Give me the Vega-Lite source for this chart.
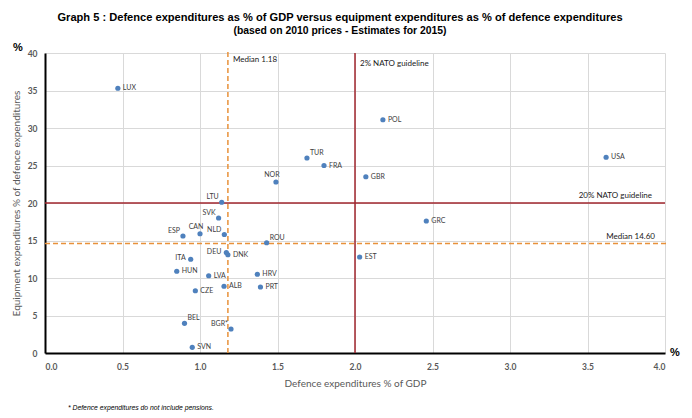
{
  "$schema": "https://vega.github.io/schema/vega-lite/v6.json",
  "width": 620,
  "height": 300,
  "autosize": {"type": "none"},
  "padding": {"left": 45, "top": 53, "right": 27, "bottom": 65},
  "background": "white",
  "config": {"view": {"stroke": null}, "font": "Lato"},
  "title": {
    "text": "Graph 5 : Defence expenditures as % of GDP versus equipment expenditures as % of defence expenditures",
    "subtitle": "(based on 2010 prices - Estimates for 2015)",
    "anchor": "middle",
    "frame": "group",
    "dx": -15,
    "offset": 6,
    "font": "Liberation Sans Narrow, Liberation Sans",
    "fontSize": 11.1,
    "fontWeight": "bold",
    "color": "black",
    "subtitleFont": "Liberation Sans Narrow, Liberation Sans",
    "subtitleFontSize": 10.4,
    "subtitleFontWeight": "bold",
    "subtitleColor": "black",
    "subtitlePadding": 3
  },
  "datasets": {
    "countries": [
      {"country": "LUX", "gdp": 0.47, "equip": 35.3},
      {"country": "POL", "gdp": 2.18, "equip": 31.1},
      {"country": "USA", "gdp": 3.62, "equip": 26.1},
      {"country": "TUR", "gdp": 1.69, "equip": 26.0},
      {"country": "FRA", "gdp": 1.8, "equip": 25.0},
      {"country": "GBR", "gdp": 2.07, "equip": 23.5},
      {"country": "NOR", "gdp": 1.49, "equip": 22.8},
      {"country": "LTU", "gdp": 1.14, "equip": 20.1},
      {"country": "SVK", "gdp": 1.12, "equip": 18.0},
      {"country": "GRC", "gdp": 2.46, "equip": 17.6},
      {"country": "CAN", "gdp": 1.0, "equip": 15.9},
      {"country": "NLD", "gdp": 1.157, "equip": 15.8},
      {"country": "ESP", "gdp": 0.89, "equip": 15.6},
      {"country": "ROU", "gdp": 1.43, "equip": 14.7},
      {"country": "DEU", "gdp": 1.17, "equip": 13.4},
      {"country": "DNK", "gdp": 1.18, "equip": 13.1},
      {"country": "EST", "gdp": 2.03, "equip": 12.8},
      {"country": "ITA", "gdp": 0.94, "equip": 12.5},
      {"country": "HUN", "gdp": 0.85, "equip": 10.9},
      {"country": "HRV", "gdp": 1.37, "equip": 10.5},
      {"country": "LVA", "gdp": 1.056, "equip": 10.3},
      {"country": "ALB", "gdp": 1.155, "equip": 8.9},
      {"country": "PRT", "gdp": 1.39, "equip": 8.8},
      {"country": "CZE", "gdp": 0.97, "equip": 8.3},
      {"country": "BEL", "gdp": 0.9, "equip": 3.96},
      {"country": "BGR*", "gdp": 1.2, "equip": 3.2},
      {"country": "SVN", "gdp": 0.95, "equip": 0.76}
    ]
  },
  "encoding": {
    "x": {
      "field": "gdp",
      "type": "quantitative",
      "scale": {"domain": [0, 4], "nice": false},
      "axis": {
        "values": [0, 0.5, 1, 1.5, 2, 2.5, 3, 3.5, 4],
        "format": ".1f",
        "title": "Defence expenditures % of GDP",
        "titleFontSize": 10,
        "titleFontWeight": "normal",
        "titleColor": "#595959",
        "titlePadding": 8,
        "labelFontSize": 8.5,
        "labelFontWeight": "bold",
        "labelColor": "#595959",
        "labelPadding": 9,
        "ticks": false,
        "domainColor": "black",
        "domainWidth": 2,
        "gridColor": "#D9D9D9",
        "gridWidth": 1
      }
    },
    "y": {
      "field": "equip",
      "type": "quantitative",
      "scale": {"domain": [0, 40], "nice": false},
      "axis": {
        "values": [0, 5, 10, 15, 20, 25, 30, 35, 40],
        "tickCount": 9,
        "labelOverlap": false,
        "title": "Equipment expenditures % of defence expenditures",
        "titleFontSize": 10,
        "titleFontWeight": "normal",
        "titleColor": "#595959",
        "titlePadding": 6,
        "labelFontSize": 8.5,
        "labelFontWeight": "bold",
        "labelColor": "#595959",
        "labelPadding": 8,
        "ticks": false,
        "domainColor": "black",
        "domainWidth": 2,
        "gridColor": "#D9D9D9",
        "gridWidth": 1
      }
    }
  },
  "layer": [
    {
      "data": {"values": [{"gdp": 2, "equip": 0, "equip2": 40}]},
      "mark": {"type": "rule", "color": "#A0262E", "strokeWidth": 1.5},
      "encoding": {"y2": {"field": "equip2"}}
    },
    {
      "data": {"values": [{"gdp": 0, "gdp2": 4, "equip": 20}]},
      "mark": {"type": "rule", "color": "#A0262E", "strokeWidth": 1.5},
      "encoding": {"x2": {"field": "gdp2"}}
    },
    {
      "data": {"values": [{"gdp": 1.18, "equip": 0, "equip2": 40.4}]},
      "mark": {"type": "rule", "color": "#E8913A", "strokeWidth": 1.5, "strokeDash": [5, 3]},
      "encoding": {"y2": {"field": "equip2"}}
    },
    {
      "data": {"values": [{"gdp": 0, "gdp2": 4.02, "equip": 14.6}]},
      "mark": {"type": "rule", "color": "#E8913A", "strokeWidth": 1.5, "strokeDash": [5, 3]},
      "encoding": {"x2": {"field": "gdp2"}}
    },
    {
      "data": {"name": "countries"},
      "mark": {"type": "point", "filled": true, "size": 27, "color": "#4F81BD", "opacity": 1}
    },
    {
      "data": {"name": "countries"},
      "transform": [{"filter": {"field": "country", "oneOf": ["LUX", "POL", "USA", "FRA", "GBR", "GRC", "EST", "DNK", "HUN", "LVA", "HRV", "ALB", "PRT", "CZE", "SVN"]}}],
      "mark": {"type": "text", "align": "left", "baseline": "middle", "dx": 5, "fontSize": 7, "color": "#404040"},
      "encoding": {"text": {"field": "country"}}
    },
    {
      "data": {"name": "countries"},
      "transform": [{"filter": {"field": "country", "oneOf": ["TUR", "ROU", "BEL"]}}],
      "mark": {"type": "text", "align": "left", "baseline": "middle", "dx": 3, "dy": -5, "fontSize": 7, "color": "#404040"},
      "encoding": {"text": {"field": "country"}}
    },
    {
      "data": {"name": "countries"},
      "transform": [{"filter": {"field": "country", "oneOf": ["LTU", "ESP", "SVK", "NLD", "BGR*"]}}],
      "mark": {"type": "text", "align": "right", "baseline": "middle", "dx": -3, "dy": -5, "fontSize": 7, "color": "#404040"},
      "encoding": {"text": {"field": "country"}}
    },
    {
      "data": {"name": "countries"},
      "transform": [{"filter": {"field": "country", "oneOf": ["ITA", "DEU"]}}],
      "mark": {"type": "text", "align": "right", "baseline": "middle", "dx": -5, "dy": -1, "fontSize": 7, "color": "#404040"},
      "encoding": {"text": {"field": "country"}}
    },
    {
      "data": {"name": "countries"},
      "transform": [{"filter": {"field": "country", "oneOf": ["NOR", "CAN"]}}],
      "mark": {"type": "text", "align": "center", "baseline": "middle", "dx": -4, "dy": -7, "fontSize": 7, "color": "#404040"},
      "encoding": {"text": {"field": "country"}}
    },
    {
      "data": {"values": [{"gdp": 1.18, "equip": 40, "label": "Median 1.18"}]},
      "mark": {"type": "text", "align": "left", "baseline": "middle", "dx": 5, "dy": 7, "fontSize": 8, "color": "#1a1a1a"},
      "encoding": {"text": {"field": "label"}}
    },
    {
      "data": {"values": [{"gdp": 2, "equip": 40, "label": "2% NATO guideline"}]},
      "mark": {"type": "text", "align": "left", "baseline": "middle", "dx": 5, "dy": 11, "fontSize": 8, "color": "#1a1a1a"},
      "encoding": {"text": {"field": "label"}}
    },
    {
      "data": {"values": [{"gdp": 4, "equip": 20, "label": "20% NATO guideline"}]},
      "mark": {"type": "text", "align": "right", "baseline": "middle", "dx": -13, "dy": -7, "fontSize": 8, "color": "#1a1a1a"},
      "encoding": {"text": {"field": "label"}}
    },
    {
      "data": {"values": [{"gdp": 4, "equip": 14.6, "label": "Median 14.60"}]},
      "mark": {"type": "text", "align": "right", "baseline": "middle", "dx": -10, "dy": -7, "fontSize": 8, "color": "#1a1a1a"},
      "encoding": {"text": {"field": "label"}}
    },
    {
      "data": {"values": [{"gdp": 0, "equip": 40, "label": "%"}]},
      "mark": {"type": "text", "align": "center", "baseline": "middle", "dx": -27, "dy": -5, "fontSize": 11, "fontWeight": "bold", "color": "black", "font": "Liberation Sans"},
      "encoding": {"text": {"field": "label"}}
    },
    {
      "data": {"values": [{"gdp": 4, "equip": 0, "label": "%"}]},
      "mark": {"type": "text", "align": "center", "baseline": "middle", "dx": 10, "dy": 0, "fontSize": 11, "fontWeight": "bold", "color": "black", "font": "Liberation Sans"},
      "encoding": {"text": {"field": "label"}}
    },
    {
      "data": {"values": [{"gdp": 0, "equip": 0, "label": "*   Defence expenditures do not include pensions."}]},
      "mark": {"type": "text", "align": "left", "baseline": "middle", "dx": 23, "dy": 55, "fontSize": 6.8, "fontStyle": "italic", "color": "black", "font": "Liberation Sans"},
      "encoding": {"text": {"field": "label"}}
    }
  ]
}
